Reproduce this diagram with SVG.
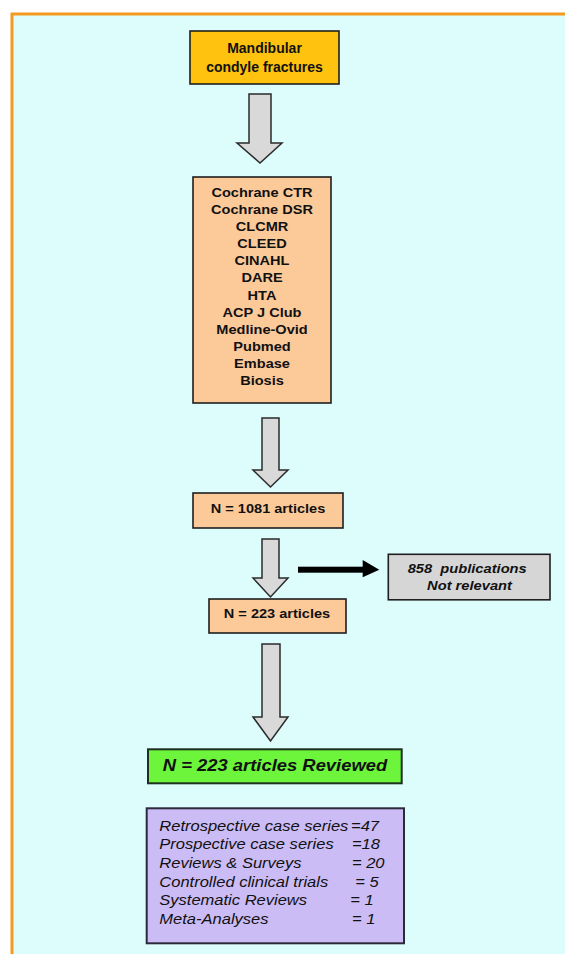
<svg xmlns="http://www.w3.org/2000/svg" width="565" height="954" viewBox="0 0 565 954">
<style>
.box{stroke:#1e1e1e;stroke-width:1.6}
.arr{fill:#d9d9d9;stroke:#2a2a2a;stroke-width:1.5;stroke-linejoin:miter}
.b{font-family:"Liberation Sans",Arial,sans-serif;font-weight:bold;fill:#111;text-anchor:middle}
.bi{font-family:"Liberation Sans",Arial,sans-serif;font-weight:bold;font-style:italic;fill:#111;text-anchor:middle}
.it{font-family:"Liberation Sans",Arial,sans-serif;font-style:italic;fill:#111}
</style>
<rect x="0" y="0" width="565" height="954" fill="#ffffff"/>
<rect x="12" y="14" width="560" height="950" fill="#ddfcfc" stroke="#f39a1e" stroke-width="3"/>

<g id="connectors">
  <polygon class="arr" points="249,94 271,94 271,143 282,143 260,163 237,143 249,143"/>
  <polygon class="arr" points="262,418 279,418 279,470 288,470 270.5,487 253,470 262,470"/>
  <polygon class="arr" points="262,539 279,539 279,578 288,578 270.5,597 253,578 262,578"/>
  <polygon class="arr" points="262,644 280,644 280,717 288,717 270.5,741 253,717 262,717"/>
  <rect x="298" y="566.7" width="66" height="6" fill="#000"/>
  <polygon points="362.7,560 379.3,569.7 362.7,577.3" fill="#000"/>
</g>

<g id="node-mandibular">
  <rect class="box" x="190" y="31" width="149" height="53" fill="#ffc20e"/>
  <text class="b" font-size="14" x="264.5" y="52.5">Mandibular</text>
  <text class="b" font-size="14" x="264.5" y="72">condyle fractures</text>
</g>

<g id="node-databases">
  <rect class="box" x="193" y="177" width="138" height="226" fill="#fcc999"/>
  <g class="b" font-size="13" transform="translate(262,0) scale(1.12,1)">
    <text class="b" x="0" y="197">Cochrane CTR</text>
    <text class="b" x="0" y="214.1">Cochrane DSR</text>
    <text class="b" x="0" y="231.2">CLCMR</text>
    <text class="b" x="0" y="248.3">CLEED</text>
    <text class="b" x="0" y="265.4">CINAHL</text>
    <text class="b" x="0" y="282.5">DARE</text>
    <text class="b" x="0" y="299.6">HTA</text>
    <text class="b" x="0" y="316.7">ACP J Club</text>
    <text class="b" x="0" y="333.8">Medline-Ovid</text>
    <text class="b" x="0" y="350.9">Pubmed</text>
    <text class="b" x="0" y="368">Embase</text>
    <text class="b" x="0" y="385.1">Biosis</text>
  </g>
</g>

<g id="node-1081">
  <rect class="box" x="193" y="493" width="150" height="35" fill="#fcc999"/>
  <text class="b" font-size="13" transform="translate(268,0) scale(1.12,1)" x="0" y="513.5">N = 1081 articles</text>
</g>

<g id="node-223">
  <rect class="box" x="209" y="599" width="137" height="34" fill="#fcc999"/>
  <text class="b" font-size="13" transform="translate(277,0) scale(1.12,1)" x="0" y="618.5">N = 223 articles</text>
</g>

<g id="node-notrelevant">
  <rect class="box" x="388.3" y="554.3" width="161.7" height="45.5" fill="#d6d6d6"/>
  <text class="bi" font-size="13" xml:space="preserve" transform="translate(467.2,0) scale(1.13,1)" x="0" y="573.5">858  publications</text>
  <text class="bi" font-size="13" transform="translate(469.5,0) scale(1.13,1)" x="0" y="590.5">Not relevant</text>
</g>

<g id="node-reviewed">
  <rect x="148" y="749.3" width="253.7" height="34" fill="#6cf53a" stroke="#1f2f1f" stroke-width="2"/>
  <text class="bi" font-size="16" transform="translate(275,0) scale(1.15,1)" x="0" y="771">N = 223 articles Reviewed</text>
</g>

<g id="node-breakdown">
  <rect x="146.7" y="808.3" width="257.3" height="135" fill="#cbbcf6" stroke="#2a2a3a" stroke-width="2"/>
  <g font-size="14.5" transform="translate(159.3,0) scale(1.14,1)">
    <text class="it" x="0" y="830.7">Retrospective case series</text><text class="it" x="168.2" y="830.7">=47</text>
    <text class="it" x="0" y="849.4">Prospective case series</text><text class="it" x="169" y="849.4">=18</text>
    <text class="it" x="0" y="868.1">Reviews &amp; Surveys</text><text class="it" x="169" y="868.1">= 20</text>
    <text class="it" x="0" y="886.8">Controlled clinical trials</text><text class="it" x="171.9" y="886.8">= 5</text>
    <text class="it" x="0" y="905.5">Systematic Reviews</text><text class="it" x="167.5" y="905.5">= 1</text>
    <text class="it" x="0" y="924.2">Meta-Analyses</text><text class="it" x="169" y="924.2">= 1</text>
  </g>
</g>
</svg>
